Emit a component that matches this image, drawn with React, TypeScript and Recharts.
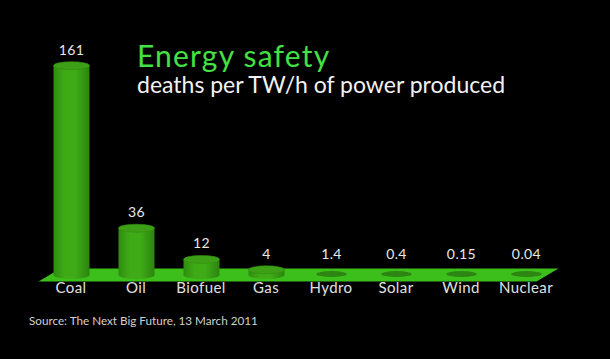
import React from "react";
import { BarChart, Bar, XAxis, YAxis, ReferenceArea } from "recharts";

const categories = ["Coal", "Oil", "Biofuel", "Gas", "Hydro", "Solar", "Wind", "Nuclear"];
const deaths = [161, 36, 12, 4, 1.4, 0.4, 0.15, 0.04];
const valueLabels = ["161", "36", "12", "4", "1.4", "0.4", "0.15", "0.04"];

const data = categories.map((c, i) => ({ name: c, value: deaths[i], label: valueLabels[i] }));

const FONT = "Lato, 'Open Sans', sans-serif";

const Cylinder = (props: any) => {
  const { x, y, width, height } = props;
  if (x == null || y == null) return null;
  const cx = x + width / 2;
  const rx = width / 2;
  const ry = 4;
  const bottom = y + height;
  if (height < 3) {
    return (
      <ellipse cx={cx} cy={bottom - 1} rx={rx * 0.85} ry={3} fill="#2c8611" />
    );
  }
  return (
    <g>
      <ellipse cx={cx} cy={bottom} rx={rx} ry={ry} fill="url(#cylBody)" />
      <rect x={x} y={y} width={width} height={height} fill="url(#cylBody)" />
      <ellipse cx={cx} cy={y} rx={rx} ry={ry} fill="#3c9f15" stroke="#348c12" strokeWidth={0.6} />
    </g>
  );
};

const ValueLabel = (props: any) => {
  const { x, y, width, height, index } = props;
  if (x == null) return null;
  const top = Math.min(y, y + height - 5);
  return (
    <text
      x={x + width / 2}
      y={top - 11}
      textAnchor="middle"
      fill="#e8e8e8"
      fontSize={14}
      letterSpacing={0.4}
      fontFamily={FONT}
    >
      {valueLabels[index]}
    </text>
  );
};

const Floor = (props: any) => {
  const { x, y, width, height } = props;
  if (x == null) return null;
  const skew = 22;
  const pts = [
    [x, y + height],
    [x + skew, y],
    [x + width, y],
    [x + width - skew, y + height],
  ]
    .map((p) => p.join(","))
    .join(" ");
  return <polygon points={pts} fill="#3cbf1a" />;
};

export default function App() {
  return (
    <div style={{ position: "absolute", left: 0, top: 0, width: 610, height: 359, background: "#000", overflow: "hidden" }}>
      <BarChart
        width={610}
        height={359}
        data={data}
        margin={{ top: 54, right: 38, bottom: 47.5, left: 27 }}
        barSize={36}
      >
        <defs>
          <linearGradient id="cylBody" x1="0" y1="0" x2="1" y2="0">
            <stop offset="0%" stopColor="#2f8c0f" />
            <stop offset="30%" stopColor="#3eaa16" />
            <stop offset="60%" stopColor="#3fac17" />
            <stop offset="100%" stopColor="#2c840e" />
          </linearGradient>
        </defs>
        <YAxis hide domain={[-5, 170]} type="number" allowDataOverflow />
        <XAxis
          dataKey="name"
          axisLine={false}
          tickLine={false}
          tickSize={0}
          tickMargin={1}
          height={30}
          padding={{ left: 11.5, right: 13.5 }}
          interval={0}
          tick={{ fill: "#e0e0e0", fontSize: 15, fontFamily: FONT, letterSpacing: 0.4 }}
        />
        <ReferenceArea y1={-5} y2={5} shape={<Floor />} ifOverflow="visible" />
        <Bar
          dataKey="value"
          isAnimationActive={false}
          shape={<Cylinder />}
          label={<ValueLabel />}
        />
      </BarChart>
      <svg
        width={610}
        height={359}
        style={{ position: "absolute", left: 0, top: 0, pointerEvents: "none" }}
      >
        <text x={137} y={67} fill="#44e044" fontSize={30} letterSpacing={1.2} fontFamily={FONT}>
          Energy safety
        </text>
        <text x={137} y={93} fill="#f2f2f2" fontSize={23} fontFamily={FONT}>
          deaths per TW/h of power produced
        </text>
        <text x={29} y={325} fill="#d0d0d0" fontSize={11.7} fontFamily={FONT}>
          Source: The Next Big Future, 13 March 2011
        </text>
      </svg>
    </div>
  );
}
